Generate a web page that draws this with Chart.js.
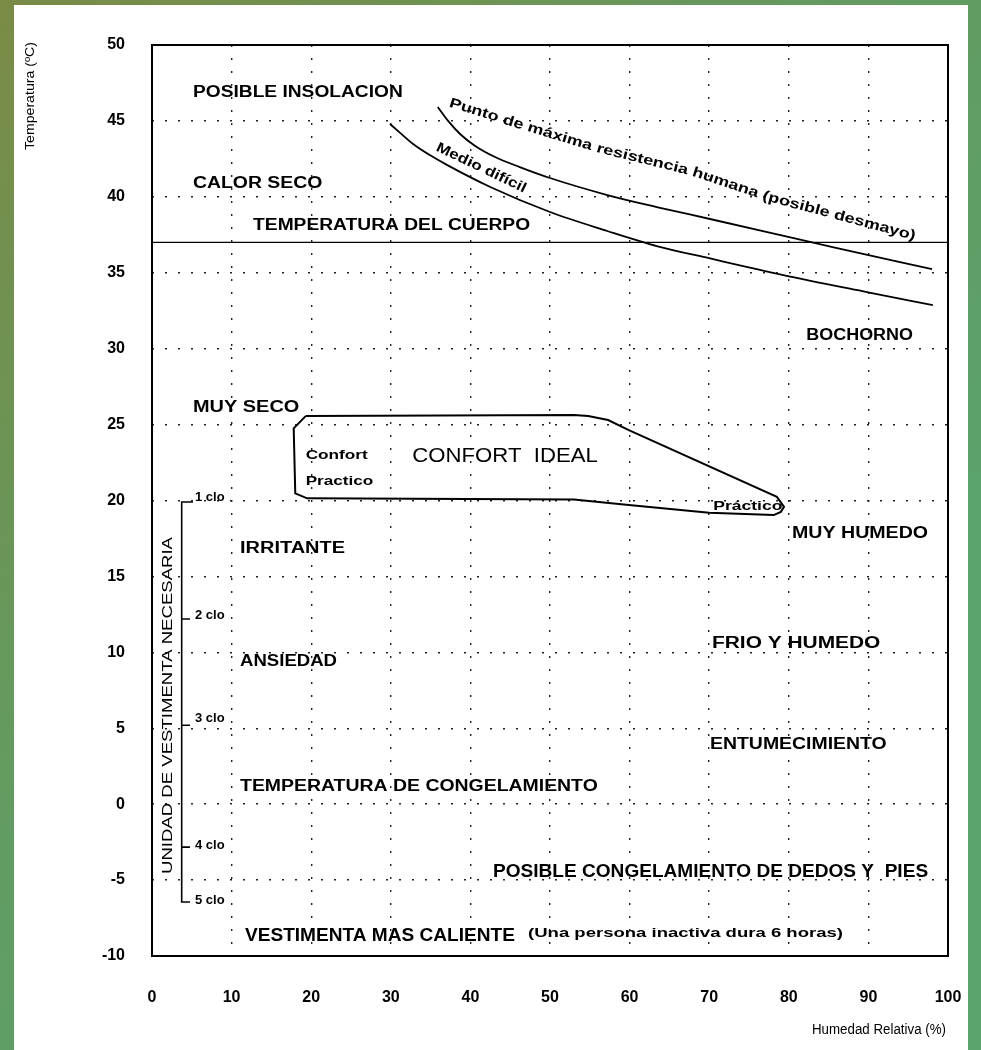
<!DOCTYPE html>
<html>
<head>
<meta charset="utf-8">
<title>Confort: temperatura y humedad relativa</title>
<script src="https://cdn.jsdelivr.net/npm/chart.js@4.4.1/dist/chart.umd.min.js"></script>
<style>
  html, body { margin: 0; padding: 0; background: #fff; }
  #wrap { width: 981px; height: 1050px; }
</style>
</head>
<body>
<div id="wrap"><canvas id="chart" width="981" height="1050"></canvas></div>
<script>
// ===== datos =====
var humMin = 0, humMax = 100, humStep = 10;
var tempMin = -10, tempMax = 50, tempStep = 5;

var bodyTemp = 37;

// Punto de maxima resistencia humana (posible desmayo)
var maxResHum  = [35.9, 37.2, 38.7, 40.6, 43.1, 46.2, 50.0, 57.2, 63.4, 70.1, 77.3, 85.5, 98.0];
var maxResTemp = [45.92, 45.0, 44.14, 43.35, 42.62, 41.96, 41.24, 40.12, 39.33, 38.54, 37.68, 36.69, 35.24];

// Medio dificil
var hardHum  = [29.9, 31.2, 32.8, 34.9, 37.1, 42.5, 50.0, 57.2, 63.4, 70.1, 79.3, 89.8, 98.1];
var hardTemp = [44.8, 44.2, 43.48, 42.75, 42.09, 40.65, 39.0, 37.75, 36.76, 35.94, 34.85, 33.73, 32.87];

// contorno de la zona de confort
var comfortHum  = [19.3, 53.0, 54.8, 57.3, 59.9, 78.5, 79.4, 79.0, 78.1, 70.0, 59.9, 53.0, 19.5, 18.0, 17.8, 19.3];
var comfortTemp = [25.56, 25.63, 25.56, 25.3, 24.64, 20.24, 19.58, 19.25, 19.04, 19.19, 19.7, 20.07, 20.14, 20.47, 24.75, 25.56];

// unidad de vestimenta necesaria
var cloLabels = ['1 clo', '2 clo', '3 clo', '4 clo', '5 clo'];
var cloTemp   = [19.9, 12.2, 5.2, -2.83, -6.44];
var cloAxisHum = 3.73;

// ===== anotaciones de texto =====
var FONT = '"Liberation Sans", Arial, Helvetica, sans-serif';
var notes = [
  { t: 'POSIBLE INSOLACION', x0: 5.15, x1: 31.5, y: 46.84, size: 16, w: 'bold' },
  { t: 'CALOR SECO', x0: 5.15, x1: 21.4, y: 40.9, size: 16, w: 'bold' },
  { t: 'TEMPERATURA DEL CUERPO', x0: 12.7, x1: 47.5, y: 38.1, size: 16, w: 'bold' },
  { t: 'BOCHORNO', x0: 82.2, x1: 95.6, y: 30.83, size: 16, w: 'bold' },
  { t: 'MUY SECO', x0: 5.15, x1: 18.5, y: 26.15, size: 16, w: 'bold' },
  { t: 'Confort', x0: 19.3, x1: 27.1, y: 23.0, size: 13, w: 'bold' },
  { t: 'Practico', x0: 19.3, x1: 27.8, y: 21.23, size: 13, w: 'bold' },
  { t: 'CONFORT  IDEAL', x0: 32.7, x1: 56.0, y: 22.88, size: 20, w: 'normal' },
  { t: 'Práctico', x0: 70.5, x1: 79.2, y: 19.58, size: 12, w: 'bold' },
  { t: 'MUY HUMEDO', x0: 80.4, x1: 97.5, y: 17.79, size: 16, w: 'bold' },
  { t: 'IRRITANTE', x0: 11.06, x1: 24.25, y: 16.86, size: 16, w: 'bold' },
  { t: 'FRIO Y HUMEDO', x0: 70.35, x1: 91.5, y: 10.6, size: 16, w: 'bold' },
  { t: 'ANSIEDAD', x0: 11.06, x1: 23.24, y: 9.37, size: 16, w: 'bold' },
  { t: 'ENTUMECIMIENTO', x0: 70.1, x1: 92.3, y: 3.9, size: 16, w: 'bold' },
  { t: 'TEMPERATURA DE CONGELAMIENTO', x0: 11.06, x1: 56.0, y: 1.14, size: 16, w: 'bold' },
  { t: 'POSIBLE CONGELAMIENTO DE DEDOS Y  PIES', x0: 42.84, x1: 97.5, y: -4.46, size: 18, w: 'bold' },
  { t: 'VESTIMENTA MAS CALIENTE', x0: 11.68, x1: 45.6, y: -8.69, size: 18, w: 'bold' },
  { t: '(Una persona inactiva dura 6 horas)', x0: 47.24, x1: 86.8, y: -8.5, size: 13, w: 'bold' }
];
var cloText = { x0: 5.4, size: 13, ys: [20.22, 12.45, 5.65, -2.7, -6.32] };
var curveTexts = [
  { t: 'Punto de máxima resistencia humana (posible desmayo)',
    hum: [37.4, 46.2, 56.3, 67.6, 77.6, 95.9], temp: [46.2, 44.75, 43.15, 41.7, 39.95, 37.4], size: 14 },
  { t: 'Medio difícil',
    hum: [35.8, 46.9], temp: [43.3, 40.5], size: 14 }
];

// ===== armado de datasets =====
function pts(xs, ys) {
  return xs.map(function(x, i) { return { x: x, y: ys[i] }; });
}

var cloPts = [{ x: 5.15, y: cloTemp[0] }, { x: cloAxisHum, y: cloTemp[0] },
              { x: cloAxisHum, y: cloTemp[4] }, { x: 4.77, y: cloTemp[4] }];
for (var i = 1; i < 4; i++) {
  cloPts.push({ x: cloAxisHum, y: null });
  cloPts.push({ x: cloAxisHum, y: cloTemp[i] });
  cloPts.push({ x: 4.77, y: cloTemp[i] });
}

function lineSet(data, width, smooth) {
  return {
    data: data, showLine: true, borderColor: '#000', borderWidth: width,
    pointRadius: 0, fill: false, spanGaps: false,
    cubicInterpolationMode: smooth ? 'monotone' : 'default', tension: 0
  };
}

var datasets = [
  lineSet([{ x: humMin, y: bodyTemp }, { x: humMax, y: bodyTemp }], 1.4, false),
  lineSet(pts(maxResHum, maxResTemp), 1.8, true),
  lineSet(pts(hardHum, hardTemp), 1.8, true),
  lineSet(pts(comfortHum, comfortTemp), 2, false),
  lineSet(cloPts, 1.6, false)
];

// ===== plugins =====
var framePlugin = {
  id: 'frame',
  beforeDraw: function(chart) {
    var ctx = chart.ctx;
    ctx.save();
    var g = ctx.createLinearGradient(0, 0, 700, 800);
    g.addColorStop(0, '#7a8b46');
    g.addColorStop(0.6, '#619c62');
    g.addColorStop(1, '#5ba36d');
    ctx.fillStyle = g;
    ctx.fillRect(0, 0, chart.width, chart.height);
    ctx.fillStyle = '#fff';
    ctx.fillRect(14, 5, 954, 1045);
    ctx.restore();
  },
  afterDraw: function(chart) {
    var ctx = chart.ctx, a = chart.chartArea;
    ctx.save();
    ctx.strokeStyle = '#000';
    ctx.lineWidth = 2;
    ctx.strokeRect(a.left, a.top, a.right - a.left, a.bottom - a.top);

    // titulos de ejes
    ctx.fillStyle = '#000';
    ctx.textBaseline = 'middle';
    ctx.save();
    ctx.translate(30, 150);
    ctx.rotate(-Math.PI / 2);
    fitText(ctx, 'Temperatura (ºC)', 0, 0, 108, 'normal 13px ' + FONT);
    ctx.restore();
    fitText(ctx, 'Humedad Relativa (%)', 812, 1030, 134, 'normal 14px ' + FONT);
    ctx.restore();
  }
};

function fitText(ctx, text, x, y, w, font) {
  ctx.font = font;
  var nat = ctx.measureText(text).width;
  ctx.save();
  ctx.translate(x, y);
  ctx.scale(w / nat, 1);
  ctx.textAlign = 'left';
  ctx.fillText(text, 0, 0);
  ctx.restore();
}

function textOnPath(ctx, text, p, font) {
  var cum = [0];
  for (var i = 1; i < p.length; i++) {
    cum.push(cum[i - 1] + Math.hypot(p[i].x - p[i - 1].x, p[i].y - p[i - 1].y));
  }
  var total = cum[cum.length - 1];
  ctx.font = font;
  var nat = ctx.measureText(text).width;
  var k = total / nat;
  var acc = 0;
  for (var c = 0; c < text.length; c++) {
    var ch = text[c];
    var cw = ctx.measureText(ch).width;
    var s = (acc + cw / 2) * k;
    acc += cw;
    var j = 1;
    while (j < p.length - 1 && cum[j] < s) j++;
    var f = (s - cum[j - 1]) / (cum[j] - cum[j - 1]);
    var px = p[j - 1].x + (p[j].x - p[j - 1].x) * f;
    var py = p[j - 1].y + (p[j].y - p[j - 1].y) * f;
    var ang = Math.atan2(p[j].y - p[j - 1].y, p[j].x - p[j - 1].x);
    ctx.save();
    ctx.translate(px, py);
    ctx.rotate(ang);
    ctx.scale(k, 1);
    ctx.textAlign = 'center';
    ctx.fillText(ch, 0, 0);
    ctx.restore();
  }
}

var notesPlugin = {
  id: 'notes',
  afterDatasetsDraw: function(chart) {
    var ctx = chart.ctx, sx = chart.scales.x, sy = chart.scales.y;
    ctx.save();
    ctx.fillStyle = '#000';
    ctx.textBaseline = 'middle';
    notes.forEach(function(n) {
      var x0 = sx.getPixelForValue(n.x0), x1 = sx.getPixelForValue(n.x1);
      fitText(ctx, n.t, x0, sy.getPixelForValue(n.y), x1 - x0, n.w + ' ' + n.size + 'px ' + FONT);
    });
    cloLabels.forEach(function(lab, i) {
      ctx.font = 'bold ' + cloText.size + 'px ' + FONT;
      ctx.textAlign = 'left';
      ctx.fillText(lab, sx.getPixelForValue(cloText.x0), sy.getPixelForValue(cloText.ys[i]));
    });
    // texto vertical de la vestimenta
    ctx.save();
    ctx.translate(sx.getPixelForValue(2.0), sy.getPixelForValue(-4.6));
    ctx.rotate(-Math.PI / 2);
    fitText(ctx, 'UNIDAD DE VESTIMENTA NECESARIA', 0, 0, 337, 'normal 15px ' + FONT);
    ctx.restore();
    curveTexts.forEach(function(ct) {
      var p = ct.hum.map(function(h, i) {
        return { x: sx.getPixelForValue(h), y: sy.getPixelForValue(ct.temp[i]) };
      });
      textOnPath(ctx, ct.t, p, 'bold ' + ct.size + 'px ' + FONT);
    });
    ctx.restore();
  }
};

// ===== grafico =====
var tickFont = { family: FONT, size: 16, weight: 'bold' };
new Chart(document.getElementById('chart').getContext('2d'), {
  type: 'scatter',
  data: { datasets: datasets },
  options: {
    responsive: false,
    animation: false,
    devicePixelRatio: 1,
    layout: { padding: { left: 0, right: 33, top: 45, bottom: 0 } },
    plugins: { legend: { display: false }, tooltip: { enabled: false } },
    scales: {
      x: {
        type: 'linear', min: humMin, max: humMax,
        ticks: { stepSize: humStep, color: '#000', font: tickFont, padding: 32, maxRotation: 0, autoSkip: false },
        grid: { color: '#222', lineWidth: 1.4, drawTicks: false },
        border: { display: false, dash: [2, 11] },
        afterFit: function(s) { s.height = 94; s.paddingLeft = 0; s.paddingRight = 0; }
      },
      y: {
        type: 'linear', min: tempMin, max: tempMax,
        ticks: { stepSize: tempStep, color: '#000', font: tickFont, padding: 27, autoSkip: false },
        grid: { color: '#222', lineWidth: 1.4, drawTicks: false },
        border: { display: false, dash: [2, 11] },
        afterFit: function(s) { s.width = 152; s.paddingTop = 0; s.paddingBottom = 0; }
      }
    }
  },
  plugins: [framePlugin, notesPlugin]
});
</script>
</body>
</html>
